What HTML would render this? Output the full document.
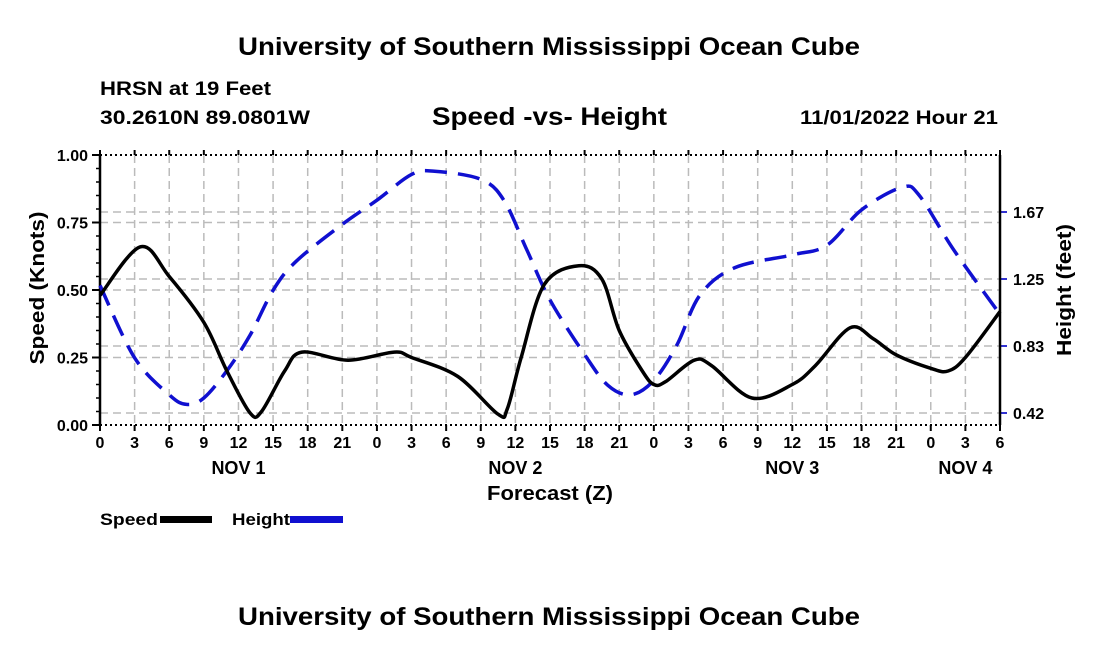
<!DOCTYPE html>
<html><head><meta charset="utf-8"><style>
body{margin:0;background:#fff;}
svg text{font-family:"Liberation Sans",sans-serif;font-weight:bold;fill:#000;}
</style></head><body>
<svg width="1100" height="650" xmlns="http://www.w3.org/2000/svg">
<text x="549" y="55" font-size="25" text-anchor="middle" textLength="622" lengthAdjust="spacingAndGlyphs">University of Southern Mississippi Ocean Cube</text>
<text x="100" y="95" font-size="19" textLength="171" lengthAdjust="spacingAndGlyphs">HRSN at 19 Feet</text>
<text x="100" y="124" font-size="19" textLength="210" lengthAdjust="spacingAndGlyphs">30.2610N  89.0801W</text>
<text x="432" y="125" font-size="25" textLength="235" lengthAdjust="spacingAndGlyphs">Speed -vs- Height</text>
<text x="800" y="124" font-size="19" textLength="198" lengthAdjust="spacingAndGlyphs">11/01/2022 Hour 21</text>
<g id="grid"></g>
<g id="axes"></g>
<g id="series"></g>
<text transform="translate(44,288) rotate(-90)" font-size="20" text-anchor="middle" textLength="153" lengthAdjust="spacingAndGlyphs">Speed (Knots)</text>
<text transform="translate(1071,290) rotate(-90)" font-size="20" text-anchor="middle" textLength="132" lengthAdjust="spacingAndGlyphs">Height (feet)</text>
<text x="487" y="500" font-size="20" textLength="126" lengthAdjust="spacingAndGlyphs">Forecast (Z)</text>
<g>
<text x="100" y="525" font-size="17" textLength="58" lengthAdjust="spacingAndGlyphs">Speed</text>
<rect x="160" y="516" width="52" height="7" fill="#000"/>
<text x="232" y="525" font-size="17" textLength="58" lengthAdjust="spacingAndGlyphs">Height</text>
<rect x="290" y="516" width="53" height="7" fill="#1010d0"/>
</g>
<text x="549" y="625" font-size="25" text-anchor="middle" textLength="622" lengthAdjust="spacingAndGlyphs">University of Southern Mississippi Ocean Cube</text>
</svg>
<script>
const xTickLabels=["0","3","6","9","12","15","18","21","0","3","6","9","12","15","18","21","0","3","6","9","12","15","18","21","0","3","6"];
const dayLabels=["NOV 1","NOV 2","NOV 3","NOV 4"];
const dayLabelHours=[12,36,60,75];
const speedTicks=[0,0.25,0.5,0.75,1.0];
const heightTicks=[0.4167,0.8333,1.25,1.6667];
const heightTickLabels=["0.42","0.83","1.25","1.67"];
const speedHours=[0,3.5,6,9,11,13,14,16,17.5,21.5,25.5,27,31,34.5,35.3,36.5,38.5,41.5,43.5,45,47,48,49,51.5,53,56.5,60,62,65,67,69,72,73.5,75,78];
const speedValues=[0.48,0.66,0.55,0.38,0.2,0.045,0.05,0.2,0.27,0.24,0.27,0.25,0.18,0.04,0.06,0.25,0.52,0.59,0.54,0.35,0.2,0.15,0.16,0.24,0.22,0.1,0.15,0.22,0.36,0.32,0.26,0.21,0.2,0.25,0.42];
const heightHours=[0,3,6,7.5,9,11,13,15,17,21,24,27,29,33,35,37,39,42,44,46,48,50,52,55,60,63,66,69.5,71,74,78];
const heightValues=[1.21,0.76,0.53,0.47,0.51,0.68,0.9,1.18,1.36,1.59,1.74,1.9,1.92,1.87,1.74,1.43,1.12,0.78,0.59,0.53,0.62,0.84,1.15,1.32,1.4,1.46,1.68,1.82,1.77,1.43,1.03];

const L=100,R=1000,T=155,B=425,NS="http://www.w3.org/2000/svg";
const xs=h=>L+h*(R-L)/78;
const ys=v=>B-v*(B-T);
const yh=v=>413-(v-0.4167)*(413-212)/1.25;
function mk(tag,at,parent){const e=document.createElementNS(NS,tag);for(const k in at)e.setAttribute(k,at[k]);parent.appendChild(e);return e;}
const grid=document.getElementById('grid'),axes=document.getElementById('axes'),series=document.getElementById('series');
xTickLabels.forEach((t,i)=>{const x=xs(i*3);
 if(i>0&&i<xTickLabels.length-1){const g=mk('line',{x1:x,x2:x,y1:T,y2:B,stroke:'#bbb','stroke-width':1.5,'stroke-dasharray':'8,5'},grid);
 
 }
 const tk=mk('line',{x1:x,x2:x,y1:B,y2:B+6,stroke:'#000','stroke-width':2},axes);
 
 
 mk('line',{x1:x,x2:x,y1:T,y2:T-5,stroke:'#000','stroke-width':2},axes);
 const tx=mk('text',{x:x,y:B+23,'font-size':16,'text-anchor':'middle'},axes);tx.textContent=t;
 
 
});
dayLabels.forEach((d,i)=>{const tx=mk('text',{x:xs(dayLabelHours[i]),y:474,'font-size':18,'text-anchor':'middle'},axes);tx.textContent=d;
 
 });
speedTicks.forEach(v=>{const y=ys(v);
 if(v>0&&v<1){const g=mk('line',{x1:L,x2:R,y1:y,y2:y,stroke:'#bbb','stroke-width':1.5,'stroke-dasharray':'8,5'},grid);
 
 }
 mk('line',{x1:L-8,x2:L,y1:y,y2:y,stroke:'#000','stroke-width':2},axes);
 const tx=mk('text',{x:L-12,y:y+6,'font-size':16,'text-anchor':'end'},axes);tx.textContent=v.toFixed(2);
 
 });
for(let v=0.05;v<1;v+=0.05){if(Math.abs(v*4-Math.round(v*4))<1e-6)continue;mk('line',{x1:L-4,x2:L,y1:ys(v),y2:ys(v),stroke:'#000','stroke-width':1.5},axes);}
heightTicks.forEach((v,i)=>{const y=yh(v);
 const g=mk('line',{x1:L,x2:R,y1:y,y2:y,stroke:'#bbb','stroke-width':1.5,'stroke-dasharray':'8,5'},grid);
 
 
 mk('line',{x1:R,x2:R+7,y1:y,y2:y,stroke:'#3030d0','stroke-width':2},axes);
 const tx=mk('text',{x:R+13,y:y+6,'font-size':16},axes);tx.textContent=heightTickLabels[i];
 
 });
mk('line',{x1:L,x2:R,y1:T,y2:T,stroke:'#000','stroke-width':2,'stroke-dasharray':'2,3'},axes);
mk('line',{x1:L,x2:R,y1:B,y2:B,stroke:'#000','stroke-width':2,'stroke-dasharray':'2,3'},axes);
mk('line',{x1:L,x2:L,y1:T,y2:B,stroke:'#000','stroke-width':2.5},axes);
mk('line',{x1:R,x2:R,y1:T,y2:B,stroke:'#000','stroke-width':2.5},axes);
function smooth(pts){let d=`M${pts[0][0]},${pts[0][1]}`;
 for(let i=0;i<pts.length-1;i++){const p0=pts[Math.max(0,i-1)],p1=pts[i],p2=pts[i+1],p3=pts[Math.min(pts.length-1,i+2)];
 const c1=[p1[0]+(p2[0]-p0[0])/6,p1[1]+(p2[1]-p0[1])/6],c2=[p2[0]-(p3[0]-p1[0])/6,p2[1]-(p3[1]-p1[1])/6];
 d+=` C${c1[0]},${c1[1]} ${c2[0]},${c2[1]} ${p2[0]},${p2[1]}`;}return d;}
const hp=mk('path',{d:smooth(heightHours.map((h,i)=>[xs(h),yh(heightValues[i])])),fill:'none',stroke:'#1010d0','stroke-width':3.5,'stroke-dasharray':'22,11'},series);


const sp=mk('path',{d:smooth(speedHours.map((h,i)=>[xs(h),ys(speedValues[i])])),fill:'none',stroke:'#000','stroke-width':3.5},series);


</script>
</body></html>
